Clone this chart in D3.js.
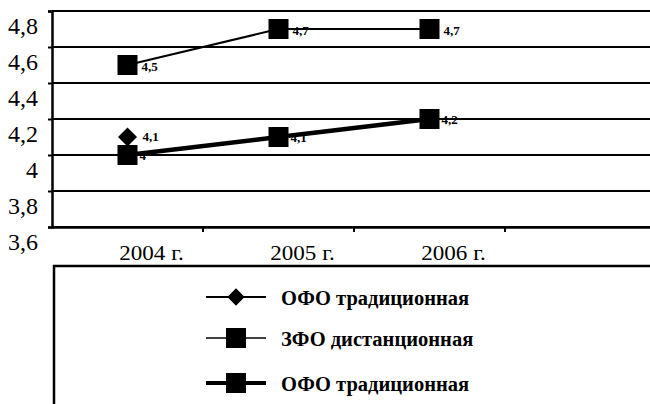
<!DOCTYPE html>
<html><head><meta charset="utf-8">
<script src="https://cdn.jsdelivr.net/npm/d3@7/dist/d3.min.js"></script>
<style>body{margin:0;background:#fff}svg{display:block}</style>
</head><body><svg id="c" width="650" height="404"></svg>
<script>
const categories = ["2004 г.", "2005 г.", "2006 г.", ""];
const seriesNames = ["ОФО традиционная", "ЗФО дистанционная", "ОФО традиционная"];
const ofoDiamond = [4.1, null, null];
const zfo = [4.5, 4.7, 4.7];
const ofoThick = [4.0, 4.1, 4.2];
const diamondLabels = ["4,1", null, null];
const zfoLabels = ["4,5", "4,7", "4,7"];
const thickLabels = ["4", "4,1", "4,2"];
const yTicks = [3.6, 3.8, 4.0, 4.2, 4.4, 4.6, 4.8];
const yTickLabels = ["3,6", "3,8", "4", "4,2", "4,4", "4,6", "4,8"];

const SF = '"Liberation Serif"';
const svg = d3.select("#c");
const x = d3.scaleBand().domain(categories).range([52, 656]);
const y = d3.scaleLinear().domain([3.6, 4.8]).range([227, 11]);
const cx = c => x(c) + x.bandwidth() / 2;

svg.append("g").selectAll("line").data(yTicks).join("line")
  .attr("x1", 52).attr("x2", 650).attr("y1", d => y(d)).attr("y2", d => y(d))
  .attr("stroke", "#000").attr("stroke-width", 2);

const ya = svg.append("g").attr("transform", "translate(52,0)")
  .call(d3.axisLeft(y).tickValues(yTicks).tickSize(4).tickFormat((d, i) => yTickLabels[i]));
ya.select(".domain").attr("stroke-width", 2.5);
ya.selectAll(".tick line").attr("stroke-width", 2);
ya.selectAll(".tick text").style("font-family", SF).style("font-size", "24px")
  .attr("fill", "#000").attr("x", -14).attr("dy", 0).attr("y", 22);

const xa = svg.append("g").attr("transform", "translate(0,227)")
  .call(d3.axisBottom(x).tickSize(0).tickSizeOuter(0));
xa.select(".domain").attr("stroke-width", 2.5);
xa.selectAll(".tick text").style("font-family", SF).style("font-size", "21px")
  .attr("fill", "#000").attr("dy", 0).attr("y", 33)
  .attr("transform", "translate(24,0) scale(1.1,1)");
svg.append("g").selectAll("line").data(categories.slice(1)).join("line")
  .attr("x1", d => x(d)).attr("x2", d => x(d)).attr("y1", 227).attr("y2", 232)
  .attr("stroke", "#000").attr("stroke-width", 2);

const line = d3.line().defined(d => d.v != null).x(d => cx(d.c)).y(d => y(d.v));
const toPts = arr => arr.map((v, i) => ({ c: categories[i], v }));

svg.append("path").datum(toPts(zfo)).attr("d", line).attr("fill", "none")
  .attr("stroke", "#000").attr("stroke-width", 2);
svg.append("path").datum(toPts(ofoThick)).attr("d", line).attr("fill", "none")
  .attr("stroke", "#000").attr("stroke-width", 4.5);
svg.append("path").datum(toPts(ofoDiamond)).attr("d", line).attr("fill", "none")
  .attr("stroke", "#000").attr("stroke-width", 1.5);

function squares(arr) {
  svg.append("g").selectAll("rect").data(toPts(arr).filter(d => d.v != null)).join("rect")
    .attr("x", d => cx(d.c) - 10).attr("y", d => y(d.v) - 10)
    .attr("width", 20).attr("height", 20).attr("fill", "#000");
}
squares(zfo);
squares(ofoThick);
svg.append("g").selectAll("path").data(toPts(ofoDiamond).filter(d => d.v != null)).join("path")
  .attr("d", d3.symbol().type(d3.symbolDiamond2).size(230))
  .attr("transform", d => `translate(${cx(d.c)},${y(d.v)})`).attr("fill", "#000");

function labels(arr, labs, dx, dy) {
  svg.append("g").selectAll("text").data(toPts(arr).map((d, i) => ({ ...d, t: labs[i] })).filter(d => d.t)).join("text")
    .style("font-family", SF).style("font-weight", "bold").style("font-size", "13px")
    .attr("x", d => cx(d.c) + dx).attr("y", d => y(d.v) + dy)
    .attr("fill", "#000").text(d => d.t);
}
labels(zfo, zfoLabels, 14, 6);
labels(ofoDiamond, diamondLabels, 15, 4);
labels(ofoThick, thickLabels, 12, 5);

svg.append("path").attr("d", "M54,404 V266 H650").attr("fill", "none")
  .attr("stroke", "#000").attr("stroke-width", 2.5);
const legY = [297, 338, 383];
const lg = svg.append("g");
seriesNames.forEach((n, i) => {
  const yy = legY[i];
  lg.append("line").attr("x1", 206).attr("x2", 266).attr("y1", yy).attr("y2", yy)
    .attr("stroke", "#000").attr("stroke-width", i === 2 ? 4 : (i === 1 ? 1.5 : 2));
  if (i === 0) {
    lg.append("path").attr("d", d3.symbol().type(d3.symbolDiamond2).size(190))
      .attr("transform", `translate(236,${yy})`).attr("fill", "#000");
  } else {
    lg.append("rect").attr("x", 226).attr("y", yy - 10).attr("width", 20).attr("height", 20).attr("fill", "#000");
  }
  lg.append("text").style("font-family", SF).style("font-weight", "bold").style("font-size", "20.5px")
    .attr("x", 281).attr("y", yy + 8)
    .attr("fill", "#000").text(n);
});
</script></body></html>
